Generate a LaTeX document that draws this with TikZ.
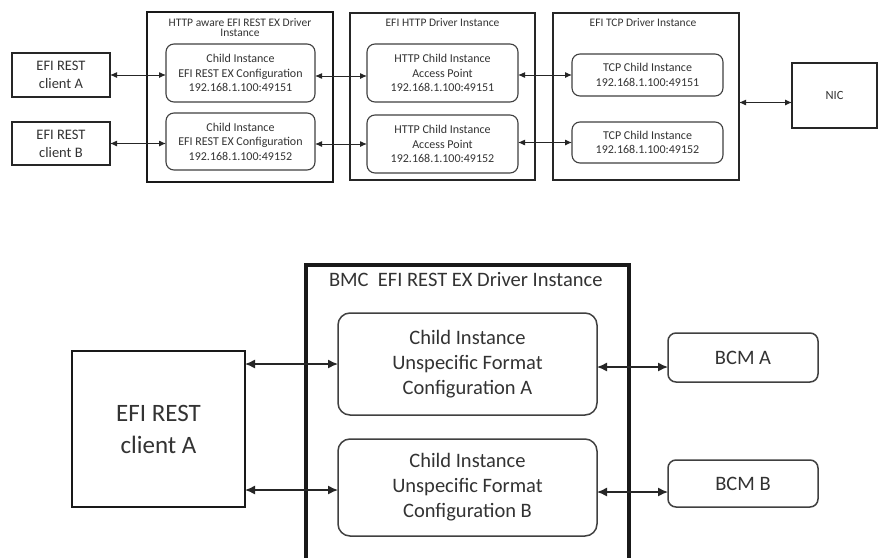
\documentclass[tikz,border=0pt]{standalone}
\usepackage{fontspec}
\setmainfont{Carlito}
\usetikzlibrary{arrows.meta,calc}
\begin{document}
\begin{tikzpicture}[x=1pt,y=-1pt,
  every node/.style={text=black!80, inner sep=0pt, outer sep=0pt, align=center},
  sq/.style={draw=black!85, line width=1.6pt},
  sqthick/.style={draw=black!90, line width=2.8pt},
  rbox/.style={draw=black!75, line width=1.1pt, rounded corners=8pt},
  rboxb/.style={draw=black!75, line width=1.5pt, rounded corners=12pt},
  smalltxt/.style={font=\fontsize{12}{14.5}\selectfont},
  titletxt/.style={font=\fontsize{11.5}{9.8}\selectfont},
  arr/.style={draw=black!85, line width=1pt, {Latex[length=7pt,width=6pt]}-{Latex[length=7pt,width=6pt]}},
  arrb/.style={draw=black!85, line width=1.4pt, {Latex[length=10pt,width=9pt]}-{Latex[length=10pt,width=9pt]}}
]
\useasboundingbox (0,0) rectangle (878,557);
\clip (0,0) rectangle (878,557);
\fill[white] (0,0) rectangle (878,557);

% ---------- top diagram ----------
\node[sq, minimum width=98pt, minimum height=44pt, font=\fontsize{14.5}{18}\selectfont] (cliA) at (61,75) {EFI REST\\client A};
\node[sq, minimum width=98pt, minimum height=43pt, font=\fontsize{14.5}{18}\selectfont] (cliB) at (61,143.5) {EFI REST\\client B};

\node[sqthick, minimum width=186pt, minimum height=170pt] (out1) at (240,97) {};
\node[titletxt] (t1) at (240,27.5) {HTTP aware EFI REST EX Driver\\Instance};
\node[rbox, smalltxt, minimum width=149pt, minimum height=58pt] (c1A) at (240.5,73) {Child Instance\\EFI REST EX Configuration\\192.168.1.100:49151};
\node[rbox, smalltxt, minimum width=149pt, minimum height=57pt] (c1B) at (240.5,141.5) {Child Instance\\EFI REST EX Configuration\\192.168.1.100:49152};

\node[sq, minimum width=185pt, minimum height=167pt] (out2) at (442.5,96.5) {};
\node[titletxt] (t2) at (442.5,23) {EFI HTTP Driver Instance};
\node[rbox, smalltxt, minimum width=151pt, minimum height=58pt] (h2A) at (442.5,73) {HTTP Child Instance\\Access Point\\192.168.1.100:49151};
\node[rbox, smalltxt, minimum width=151pt, minimum height=58pt] (h2B) at (442.5,144) {HTTP Child Instance\\Access Point\\192.168.1.100:49152};

\node[sq, minimum width=186pt, minimum height=167pt] (out3) at (646,96.5) {};
\node[titletxt] (t3) at (643,23) {EFI TCP Driver Instance};
\node[rbox, smalltxt, minimum width=151pt, minimum height=42pt] (t3A) at (647.5,75) {TCP Child Instance\\192.168.1.100:49151};
\node[rbox, smalltxt, minimum width=151pt, minimum height=41pt] (t3B) at (647.5,142.5) {TCP Child Instance\\192.168.1.100:49152};

\node[sq, minimum width=85pt, minimum height=65pt, font=\fontsize{12.5}{14}\selectfont] (nic) at (834.5,95.5) {NIC};

\draw[arr] (cliA.east) -- (cliA.east -| c1A.west);
\draw[arr] (cliB.east) -- (cliB.east -| c1B.west);
\draw[arr] ([yshift=-3pt]c1A.east) -- ([yshift=-3pt]c1A.east -| h2A.west);
\draw[arr] ([yshift=-2.5pt]c1B.east) -- ([yshift=-2.5pt]c1B.east -| h2B.west);
\draw[arr] (h2A.east |- t3A.west) -- (t3A.west);
\draw[arr] (h2B.east |- t3B.west) -- (t3B.west);
\draw[arr] ([yshift=-6pt]out3.east) -- ([yshift=-6pt]out3.east -| nic.west);

% ---------- bottom diagram ----------
\node[sqthick, minimum width=173pt, minimum height=156pt, font=\fontsize{25}{32}\selectfont] (cli) at (158.5,429) {EFI REST\\client A};

\node[draw=black!90, line width=3.5pt, minimum width=323pt, minimum height=355pt] (bmc) at (467.5,442.5) {};
\node[anchor=west, font=\fontsize{20.5}{22}\selectfont] (bt) at (329,280) {BMC~ EFI REST EX Driver Instance};

\node[rboxb, minimum width=259pt, minimum height=102pt, font=\fontsize{20.5}{25}\selectfont] (cA) at (467.5,364) {Child Instance\\Unspecific Format\\Configuration A};
\node[rboxb, minimum width=259pt, minimum height=97pt, font=\fontsize{20.5}{25}\selectfont] (cB) at (467.5,487.5) {Child Instance\\Unspecific Format\\Configuration B};

\node[rboxb, rounded corners=8pt, minimum width=150pt, minimum height=49pt, font=\fontsize{20.5}{22}\selectfont] (bA) at (743,357.5) {BCM A};
\node[rboxb, rounded corners=8pt, minimum width=150pt, minimum height=47pt, font=\fontsize{20.5}{22}\selectfont] (bB) at (743,483.5) {BCM B};

\draw[arrb] (cli.east |- cA.west) -- (cA.west);
\draw[arrb] ([yshift=-2.5pt]cli.east |- cB.west) -- ([yshift=-2.5pt]cB.west);
\draw[arrb] ([yshift=-3pt]cA.east) -- ([yshift=-3pt]cA.east -| bA.west);
\draw[arrb] ([yshift=-4.5pt]cB.east) -- ([yshift=-4.5pt]cB.east -| bB.west);
\end{tikzpicture}
\end{document}
